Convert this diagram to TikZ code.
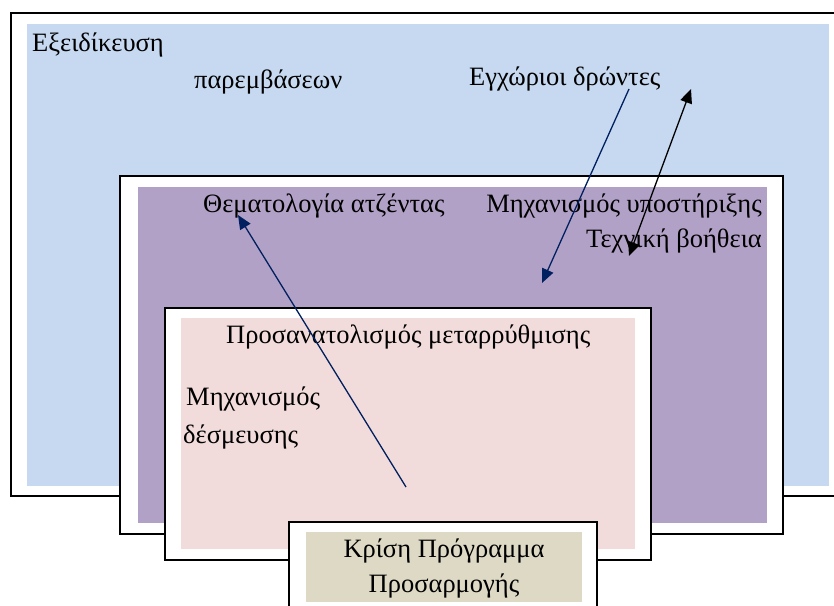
\documentclass[tikz,border=0pt]{standalone}
\usepackage{fontspec}
\setmainfont{Liberation Serif}
\usetikzlibrary{arrows.meta}
\definecolor{bluefill}{HTML}{C6D9F1}
\definecolor{purplefill}{HTML}{B2A1C7}
\definecolor{pinkfill}{HTML}{F2DCDB}
\definecolor{tanfill}{HTML}{DDD9C4}
\definecolor{navy}{HTML}{002060}
\tikzset{
  frame/.style={draw=black, fill=white, line width=1.4pt},
  lbl/.style={inner sep=0pt, font=\fontsize{26.5}{36}\selectfont},
  navyarrow/.style={draw=navy, line width=1.3pt, -{Triangle[length=14pt,width=12pt]}},
  blackarrow/.style={draw=black, line width=1.3pt, {Triangle[length=14pt,width=12pt]}-{Triangle[length=14pt,width=12pt]}}
}
\begin{document}
\begin{tikzpicture}[x=1pt,y=-1pt]
\useasboundingbox (0,0) rectangle (834,605);
\clip (0,0) rectangle (834,605);
\fill[white] (0,0) rectangle (834,605);
% box 1
\draw[frame] (11,13) rectangle (850,496);
\fill[bluefill] (27,24) rectangle (829,486);
% box 2
\draw[frame] (120,176) rectangle (783,534);
\fill[purplefill] (138,187) rectangle (767,523);
% box 3
\draw[frame] (165,308) rectangle (651,560);
\fill[pinkfill] (181,318) rectangle (635,549);
% box 4
\draw[frame] (289,522) rectangle (597,620);
\fill[tanfill] (306,532) rectangle (582,602);
% texts
\node[lbl, anchor=base west] (eks) at (32,51) {Εξειδίκευση};
\node[lbl, anchor=base west] (par) at (194,88) {παρεμβάσεων};
\node[lbl, anchor=base west] (egx) at (469,85) {Εγχώριοι δρώντες};
\node[lbl, anchor=base west] (them) at (203,212) {Θεματολογία ατζέντας};
\node[lbl, anchor=base east] (mhx) at (762,212) {Μηχανισμός υποστήριξης};
\node[lbl, anchor=base east] (tex) at (762,247) {Τεχνική βοήθεια};
\node[lbl, anchor=base west] (pros) at (226,343) {Προσανατολισμός μεταρρύθμισης};
\node[lbl, anchor=base west] (mhx2) at (186,405) {Μηχανισμός};
\node[lbl, anchor=base west] (des) at (183,443) {δέσμευσης};
\node[lbl, anchor=base] (kri) at (444,557) {Κρίση Πρόγραμμα};
\node[lbl, anchor=base] (prosar) at (444,592) {Προσαρμογής};
% arrow endpoints
\coordinate (a1s) at (629,89);
\coordinate (a1e) at (542,283);
\coordinate (a2s) at (629,256);
\coordinate (a2e) at (691,89);
\coordinate (a3s) at (406,487);
\coordinate (a3e) at (238,215);
\draw[navyarrow] (a1s) -- (a1e);
\draw[blackarrow] (a2s) -- (a2e);
\draw[navyarrow] (a3s) -- (a3e);
\end{tikzpicture}
\end{document}
